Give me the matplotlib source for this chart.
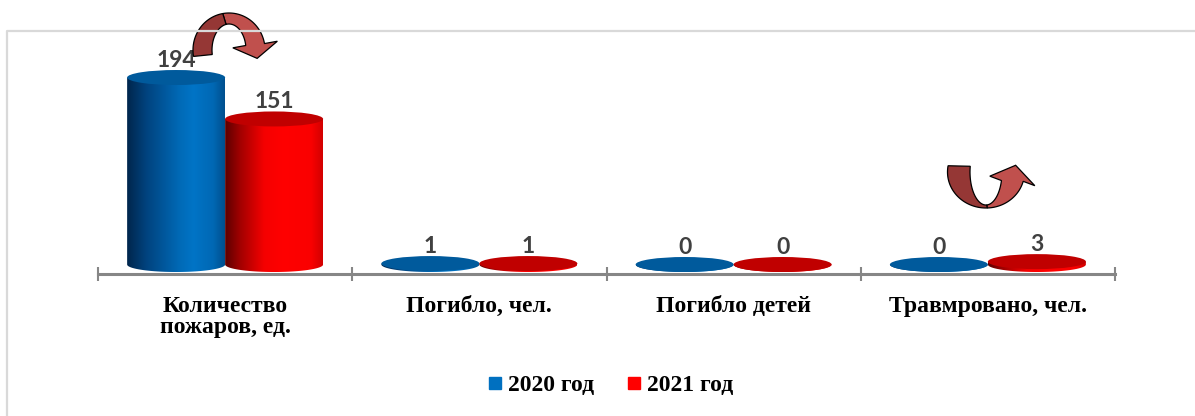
import numpy as np
import matplotlib
matplotlib.use("Agg")
import matplotlib.pyplot as plt
from matplotlib.colors import LinearSegmentedColormap
from matplotlib.patches import Ellipse, Polygon
from matplotlib.lines import Line2D

categories = ["Количество\nпожаров, ед.", "Погибло, чел.", "Погибло детей", "Травмровано, чел."]
series_names = ["2020 год", "2021 год"]
values_2020 = [194, 1, 0, 0]
values_2021 = [151, 1, 0, 3]

W, H = 1195, 416

blue_cmap = LinearSegmentedColormap.from_list(
    "blue_cyl", [(0, "#00264C"), (0.2, "#00437F"), (0.55, "#006BB8"),
                 (0.68, "#0074C6"), (0.88, "#0068B4"), (1, "#00508E")])
red_cmap = LinearSegmentedColormap.from_list(
    "red_cyl", [(0, "#5C0000"), (0.15, "#A00000"), (0.4, "#F50000"),
                (0.6, "#FF0000"), (0.88, "#FA0000"), (1, "#D20000")])
blue_top = "#005A9C"
red_top = "#C00000"


def cylinder(ax, xc, v, a, b, cmap, top_color):
    # body + lower half of the base ellipse, filled with a horizontal gradient
    t = np.linspace(0, np.pi, 60)
    verts = [(xc - a, v), (xc + a, v)] + [(xc + a * np.cos(s), -b * np.sin(s)) for s in t]
    clip = Polygon(verts, closed=True, facecolor="none", edgecolor="none")
    ax.add_patch(clip)
    grad = np.linspace(0, 1, 256).reshape(1, -1)
    im = ax.imshow(grad, cmap=cmap, extent=(xc - a, xc + a, -b, v),
                   aspect="auto", interpolation="bicubic", zorder=2)
    im.set_clip_path(clip)
    ax.add_patch(Ellipse((xc, v), 2 * a, 2 * b, facecolor=top_color,
                         edgecolor="none", zorder=3))


def curved_arrow(ax, cx, cy, outer, inner, th0, th1, th_split, head_half, head_len):
    # ribbon arrow in pixel coords (y down); outer/inner are (rx, ry) of the two edges
    def pt(r, t):
        return np.array([cx + r[0] * np.cos(t), cy - r[1] * np.sin(t)])

    t0, t1, tm = np.radians(th0), np.radians(th1), np.radians(th_split)
    s = np.sign(t1 - t0)

    ta = np.linspace(t0, tm, 50)
    dark = [pt(outer, t) for t in ta] + [pt(inner, t) for t in ta[::-1]]

    tb = np.linspace(tm, t1, 50)
    po, pi = pt(outer, t1), pt(inner, t1)
    mid = (po + pi) / 2
    rm = ((outer[0] + inner[0]) / 2, (outer[1] + inner[1]) / 2)
    d = s * np.array([-rm[0] * np.sin(t1), -rm[1] * np.cos(t1)])
    d /= np.hypot(*d)
    u = np.array([d[1], -d[0]])
    if np.dot(u, po - pi) < 0:
        u = -u
    light = ([pt(outer, t) for t in tb]
             + [mid + head_half * u, mid + head_len * d, mid - head_half * u]
             + [pt(inner, t) for t in tb[::-1]])

    ax.add_patch(Polygon(light, closed=True, facecolor="#C0504D", edgecolor="black", lw=0.9))
    ax.add_patch(Polygon(dark, closed=True, facecolor="#953735", edgecolor="black", lw=0.9))


fig = plt.figure(figsize=(W / 100, H / 100), dpi=100)
ax = fig.add_axes([98 / W, 1 - 274 / H, 1017 / W, 244 / H])

ymin, ymax = -9.85, 243.3
px_per_unit = 244 / (ymax - ymin)
a = 0.1927
b = 7.5 / px_per_unit

x = np.arange(len(categories))
for i in x:
    for k, (vals, cmap, top) in enumerate([(values_2020, blue_cmap, blue_top),
                                           (values_2021, red_cmap, red_top)]):
        xc = i + (k - 0.5) * 2 * a
        v = vals[i]
        cylinder(ax, xc, v, a, b, cmap, top)
        ax.annotate(str(v), xy=(xc, v + b), xytext=(0, 2.5), textcoords="offset points",
                    ha="center", va="baseline", fontsize=16.5, fontweight="bold",
                    family="Lato", color="#404040", zorder=4)
    ax.annotate(categories[i], xy=(i, 0), xycoords=("data", "axes fraction"),
                xytext=(0, -15.5), textcoords="offset points", ha="center", va="top",
                fontsize=17, fontweight="bold", family="Liberation Serif",
                linespacing=1.05, color="black")

ax.set_xlim(-0.5, 3.5)
ax.set_ylim(ymin, ymax)
for side in ["top", "left", "right"]:
    ax.spines[side].set_visible(False)
ax.spines["bottom"].set_color("#868686")
ax.spines["bottom"].set_linewidth(2.2)
ax.set_yticks([])
ax.set_xticks(np.arange(-0.5, 4, 1))
ax.set_xticklabels([])
ax.tick_params(axis="x", direction="inout", length=10, width=1.5, color="#868686")
ax.patch.set_alpha(0)

handles = [Line2D([], [], marker="s", ls="none", color="#0070C0", markersize=8),
           Line2D([], [], marker="s", ls="none", color="#FF0000", markersize=8)]
fig.legend(handles, series_names, loc="center", bbox_to_anchor=(610 / W, 1 - 385 / H),
           ncol=2, frameon=False, handlelength=0.7, handletextpad=0.2, columnspacing=1.3,
           prop=dict(family="Liberation Serif", weight="bold", size=17))

# decorations in pixel space: chart frame and the two curved arrows
deco = fig.add_axes([0, 0, 1, 1], zorder=5)
deco.set_xlim(0, W)
deco.set_ylim(H, 0)
deco.axis("off")
deco.plot([7.5, 7.5, W], [H, 30.5, 30.5], color="#D9D9D9", lw=1.6)
curved_arrow(deco, 229, 50, (36, 37), (17, 26), 190, 10, 100, 22.5, 14)
curved_arrow(deco, 986, 172, (38.5, 36), (16, 33), 170, 345, 272, 23, 16)

plt.savefig("out.png", dpi=100)
plt.close()
